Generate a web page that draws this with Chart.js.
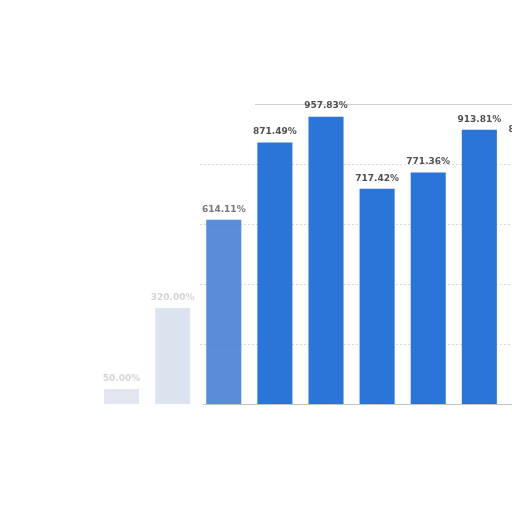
<!DOCTYPE html>
<html>
<head>
<meta charset="utf-8">
<script src="https://cdn.jsdelivr.net/npm/chart.js@4.4.0/dist/chart.umd.min.js"></script>
<style>
  html, body { margin: 0; padding: 0; background: #fff; overflow: hidden; }
  #wrap { position: absolute; left: 0; top: 0; width: 600px; height: 512px; }
</style>
</head>
<body>
<div id="wrap"><canvas id="barChart"></canvas></div>
<script>
// values (the two leftmost and the rightmost are estimates)
const categories = ['A', 'B', 'C', 'D', 'E', 'F', 'G', 'H', 'I'];
const percentValues = [50, 320, 614.11, 871.49, 957.83, 717.42, 771.36, 913.81, 880];
const yTicks = [200, 400, 600, 800, 1000];

const fadedBars = { 0: 'rgba(200,210,225,0.55)', 1: 'rgba(195,208,228,0.6)', 2: 'rgba(60,120,210,0.85)' };

// dotted grid lines, only over the part of the plot that is not washed out
const partialGrid = {
  id: 'partialGrid',
  beforeDatasetsDraw(chart) {
    const ctx = chart.ctx;
    const y = chart.scales.y;
    ctx.save();
    ctx.lineWidth = 1;
    yTicks.forEach(function(v) {
      const py = Math.round(y.getPixelForValue(v)) + 0.5;
      ctx.strokeStyle = v === 1000 ? '#cfcfcf' : '#d8d8d8';
      ctx.setLineDash(v === 1000 ? [] : [2, 2]);
      ctx.beginPath();
      ctx.moveTo(v === 1000 ? 255 : 200, py);
      ctx.lineTo(chart.chartArea.right, py);
      ctx.stroke();
    });
    // base line
    const by = Math.round(y.getPixelForValue(0)) + 0.5;
    ctx.setLineDash([]);
    ctx.strokeStyle = '#c4c4c4';
    ctx.beginPath();
    ctx.moveTo(203, by);
    ctx.lineTo(chart.chartArea.right, by);
    ctx.stroke();
    ctx.restore();
  }
};

// draws the value above each bar
const valueLabels = {
  id: 'valueLabels',
  afterDatasetsDraw(chart) {
    const ctx = chart.ctx;
    const meta = chart.getDatasetMeta(0);
    ctx.save();
    ctx.font = 'bold 9px "DejaVu Sans"';
    ctx.textAlign = 'center';
    ctx.textBaseline = 'bottom';
    meta.data.forEach(function(bar, i) {
      ctx.fillStyle = i < 2 ? 'rgba(170,170,170,0.5)' : (i === 2 ? '#777' : '#505050');
      ctx.fillText(percentValues[i].toFixed(2) + '%', bar.x, bar.y - 6);
    });
    ctx.restore();
  }
};

const barChart = new Chart(document.getElementById('barChart'), {
  type: 'bar',
  data: {
    labels: categories,
    datasets: [{
      data: percentValues,
      backgroundColor: function(c) { return fadedBars[c.dataIndex] || '#2b74d8'; },
      categoryPercentage: 1,
      barPercentage: 0.686
    }]
  },
  options: {
    responsive: true,
    maintainAspectRatio: false,
    animation: false,
    layout: { padding: { left: 88, right: 44, top: 104, bottom: 100 } },
    plugins: { legend: { display: false }, tooltip: { enabled: false } },
    scales: {
      x: {
        ticks: { display: false },
        grid: { display: false },
        border: { display: false }
      },
      y: {
        min: 0,
        max: 1000,
        ticks: { display: false },
        grid: { display: false },
        border: { display: false }
      }
    }
  },
  plugins: [partialGrid, valueLabels]
});
</script>
</body>
</html>
